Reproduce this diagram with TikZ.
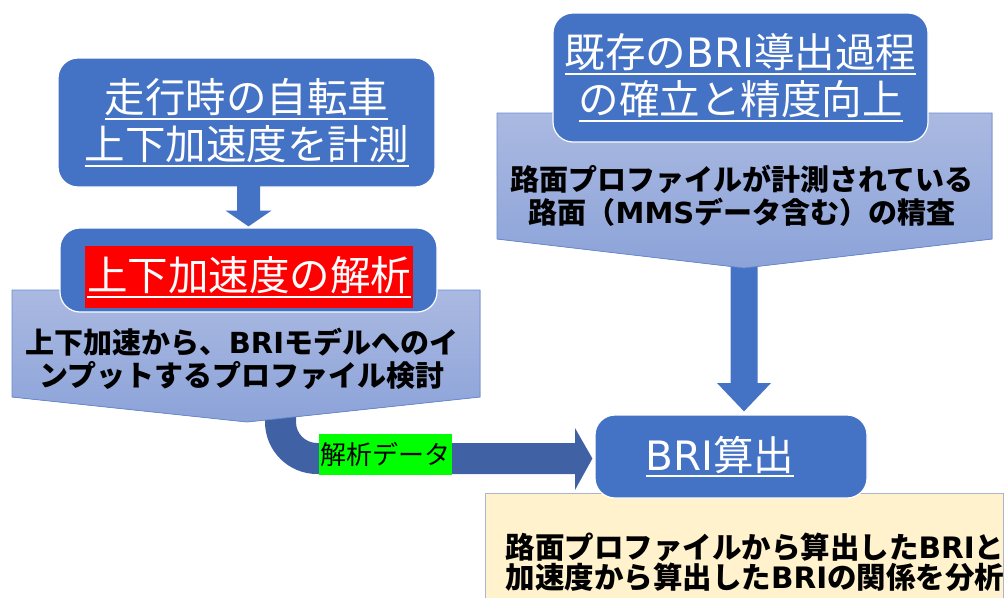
\documentclass[tikz,border=0pt]{standalone}
\usepackage{fontspec}
\setmainfont{Noto Sans CJK JP}
\newfontfamily\lat{DejaVu Sans}
\usetikzlibrary{calc}
\definecolor{boxblue}{HTML}{4472C4}
\definecolor{arrblue}{HTML}{4062A4}
\definecolor{cotop}{HTML}{AAB9E1}
\definecolor{cobot}{HTML}{8CA3D9}
\definecolor{coedge}{HTML}{6A8BD0}
\definecolor{ylw}{HTML}{FFF2CC}
\definecolor{eedge}{HTML}{A9B6D3}
\definecolor{lgreen}{HTML}{00FF00}
\newcommand\ulx[1]{\setbox0\hbox{#1}\rlap{\rule[-7pt]{\wd0}{2pt}}\box0}
\begin{document}
\begin{tikzpicture}[x=1pt,y=-1pt,
  box/.style={rounded corners=20pt, fill=boxblue, draw=white, line width=1.2pt, inner sep=0pt, text=white, align=center},
  ttl/.style={font=\fontsize{40.5}{47}\selectfont},
  callout/.style={top color=cotop, bottom color=cobot, draw=coedge, line width=0.8pt},
  cotext/.style={font=\bfseries\fontsize{29}{33}\selectfont, align=center, text=black, inner sep=0pt},
  blk/.style={fill=boxblue},
  curv/.style={fill=arrblue},
]
\useasboundingbox (0,0) rectangle (1006,597);

% target box position (redrawn later on top)
\path (731,456.5) node[box, ttl, minimum width=272pt, minimum height=83pt] (D) {};

% curved arrow (from left callout to D)
\coordinate (btip) at (247,422);
\fill[curv] ($(btip)+(18,-17)$) -- ($(btip)+(18,0)$)
  .. controls ($(btip)+(18,28.7)$) and ($(btip)+(41.3,52)$) .. ($(btip)+(70,52)$)
  -- (575,474) -- (575,490) -- ($(D.west)+(-2,2)$) -- (575,428) -- (575,443)
  -- ($(btip)+(70,21)$)
  .. controls ($(btip)+(58.4,21)$) and ($(btip)+(49,11.6)$) .. ($(btip)+(49,0)$)
  -- ($(btip)+(49,-17)$) -- cycle;
\node[fill=lgreen, inner sep=0pt, minimum width=133pt, minimum height=41pt, font=\fontsize{26}{30}\selectfont] (lbl) at (385.5,454.5) {解析データ};

% left callout
\filldraw[callout] (12,290) -- (480,290) -- (480,397) -- (btip) -- (12,397) -- cycle;
\node[cotext] (bt) at (242,359) {上下加速から、{\lat BRI}モデルへのイ\\ンプットするプロファイル検討};

% box A and arrow to B
\node[box, ttl, minimum width=377pt, minimum height=129pt] (A) at (246.5,122.5) {\ulx{走行時の自転車}\\\ulx{上下加速度を計測}};
\node[box, minimum width=377pt, minimum height=84pt] (B) at (248.5,270) {};
\fill[blk] ($(A.south)+(-9.5,-2)$) -- ($(A.south)+(-9.5,23)$) -- ($(A.south)+(-21,23)$)
  -- ($(A.south|-B.north)+(2,-1)$) -- ($(A.south)+(25,23)$) -- ($(A.south)+(13.5,23)$)
  -- ($(A.south)+(13.5,-2)$) -- cycle;
\node[fill=red, text=white, ttl, inner xsep=2pt, inner ysep=0pt, minimum height=62pt] (Bt) at (249,277) {\ulx{上下加速度の解析}};

% right side
\coordinate (ctip) at (744,268);
\fill[blk] ($(ctip)+(-13.5,-5)$) -- ($(ctip)+(-13.5,115)$) -- ($(ctip)+(-27,115)$)
  -- ($(ctip|-D.north)+(0,-3)$) -- ($(ctip)+(27,115)$) -- ($(ctip)+(13.5,115)$)
  -- ($(ctip)+(13.5,-5)$) -- cycle;
\filldraw[callout] (497,113) -- (992,113) -- (992,239) -- (ctip) -- (497,239) -- cycle;
\node[cotext] (ct) at (742,196) {路面プロファイルが計測されている\\路面（{\lat MMS}データ含む）の精査};
\node[box, ttl, minimum width=375pt, minimum height=129pt] (C) at (740.5,77.5) {\ulx{既存の{\lat BRI}導出過程}\\\ulx{の確立と精度向上}};

% bottom right
\node[fill=ylw, draw=eedge, line width=1pt, minimum width=518pt, minimum height=110pt, anchor=north west] (E) at (485,493) {};
\node[cotext, font=\bfseries\fontsize{29.5}{30.5}\selectfont] (et) at (755,562) {路面プロファイルから算出した{\lat BRI}と\\加速度から算出した{\lat BRI}の関係を分析};
\node[box, ttl, minimum width=272pt, minimum height=83pt] (D2) at (D) {\hspace*{-22pt}\ulx{{\lat BRI}算出}};
\end{tikzpicture}
\end{document}
